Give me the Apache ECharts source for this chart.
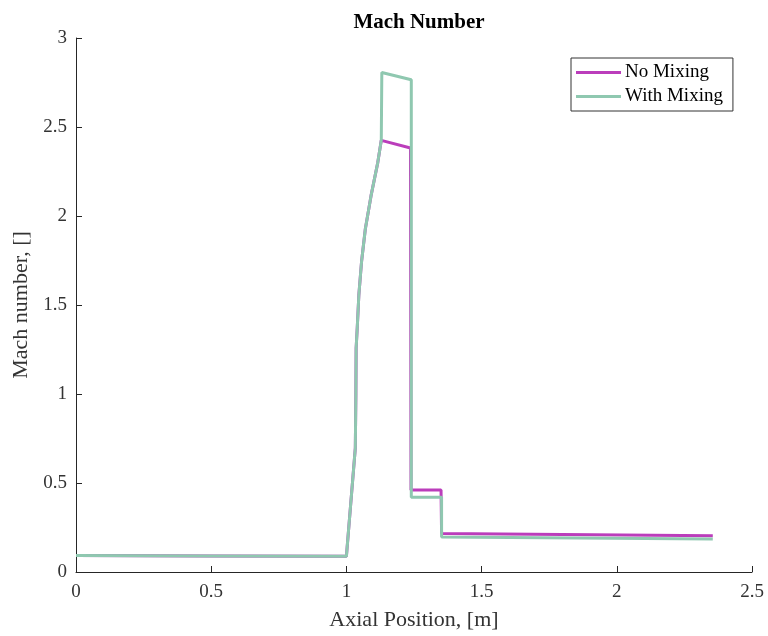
<!DOCTYPE html>
<html>
<head>
<meta charset="utf-8">
<script src="https://cdn.jsdelivr.net/npm/echarts@6/dist/echarts.min.js"></script>
<style>html,body{margin:0;padding:0;background:#fff}#c{width:768px;height:636px}</style>
</head>
<body>
<div id="c"></div>
<script>
// Shared inlet + acceleration portion
var sharedX = [0, 0.5, 1.0, 1.033, 1.035, 1.036, 1.040, 1.046, 1.056, 1.070, 1.091, 1.116, 1.129];
var sharedY = [0.092, 0.090, 0.088, 0.698, 1.0, 1.257, 1.369, 1.555, 1.743, 1.927, 2.113, 2.300, 2.425];

// No Mixing continuation
var noMixX = [1.129, 1.237, 1.239, 1.350, 1.352, 2.355];
var noMixY = [2.430, 2.382, 0.460, 0.460, 0.216, 0.203];

// With Mixing continuation
var withMixX = [1.131, 1.240, 1.240, 1.352, 1.352, 2.355];
var withMixY = [2.806, 2.765, 0.420, 0.420, 0.197, 0.186];

var xTicks = [0, 0.5, 1, 1.5, 2, 2.5];
var yTicks = [0, 0.5, 1, 1.5, 2, 2.5, 3];

function pairs(xa, ya) { var o = []; for (var i = 0; i < xa.length; i++) o.push([xa[i], ya[i]]); return o; }
var noMixData = pairs(sharedX, sharedY).concat(pairs(noMixX, noMixY));
var withMixData = pairs(sharedX, sharedY).concat(pairs(withMixX, withMixY));

var font = 'Liberation Serif, Times New Roman, serif';
var axisCol = '#262626';
var chart = echarts.init(document.getElementById('c'));
chart.setOption({
  animation: false,
  backgroundColor: '#fff',
  title: {
    text: 'Mach Number', left: 414, top: 7, textAlign: 'center',
    textStyle: { fontFamily: font, fontSize: 21, fontWeight: 'bold', color: '#000' }
  },
  legend: {
    orient: 'vertical', left: 571, top: 58,
    backgroundColor: '#fff', borderColor: '#333', borderWidth: 1,
    padding: [5, 10, 5, 5], itemGap: 5, itemWidth: 45, itemHeight: 3,
    icon: 'rect',
    textStyle: { fontFamily: font, fontSize: 19, color: '#000', padding: [0, 0, 0, -1] },
    data: ['No Mixing', 'With Mixing']
  },
  grid: { left: 76, right: 16, top: 38, bottom: 61, containLabel: false },
  xAxis: {
    type: 'value', min: 0, max: 2.5, interval: 0.5,
    name: 'Axial Position, [m]', nameLocation: 'middle', nameGap: 37,
    nameTextStyle: { fontFamily: font, fontSize: 22, color: '#333' },
    axisLine: { show: true, lineStyle: { color: axisCol, width: 1 } },
    axisTick: { show: true, inside: true, length: 6, lineStyle: { color: axisCol } },
    axisLabel: { fontFamily: font, fontSize: 19, color: '#333', margin: 11,
      formatter: function (v) { return xTicks.indexOf(v) >= 0 ? String(v) : ''; } },
    splitLine: { show: false }
  },
  yAxis: {
    type: 'value', min: 0, max: 3, interval: 0.5,
    name: 'Mach number, []', nameLocation: 'middle', nameGap: 34, nameRotate: 90,
    nameTextStyle: { fontFamily: font, fontSize: 22, color: '#333' },
    axisLine: { show: true, lineStyle: { color: axisCol, width: 1 } },
    axisTick: { show: true, inside: true, length: 6, lineStyle: { color: axisCol } },
    axisLabel: { fontFamily: font, fontSize: 19, color: '#333', margin: 9,
      formatter: function (v) { return yTicks.indexOf(v) >= 0 ? String(v) : ''; } },
    splitLine: { show: false }
  },
  series: [
    { name: 'No Mixing', type: 'line', data: noMixData, showSymbol: false, symbol: 'none',
      color: '#bb3dbb', lineStyle: { color: '#bb3dbb', width: 3 } },
    { name: 'With Mixing', type: 'line', data: withMixData, showSymbol: false, symbol: 'none',
      color: '#8fc8b0', lineStyle: { color: '#8fc8b0', width: 3 } }
  ]
});
</script>
</body>
</html>
